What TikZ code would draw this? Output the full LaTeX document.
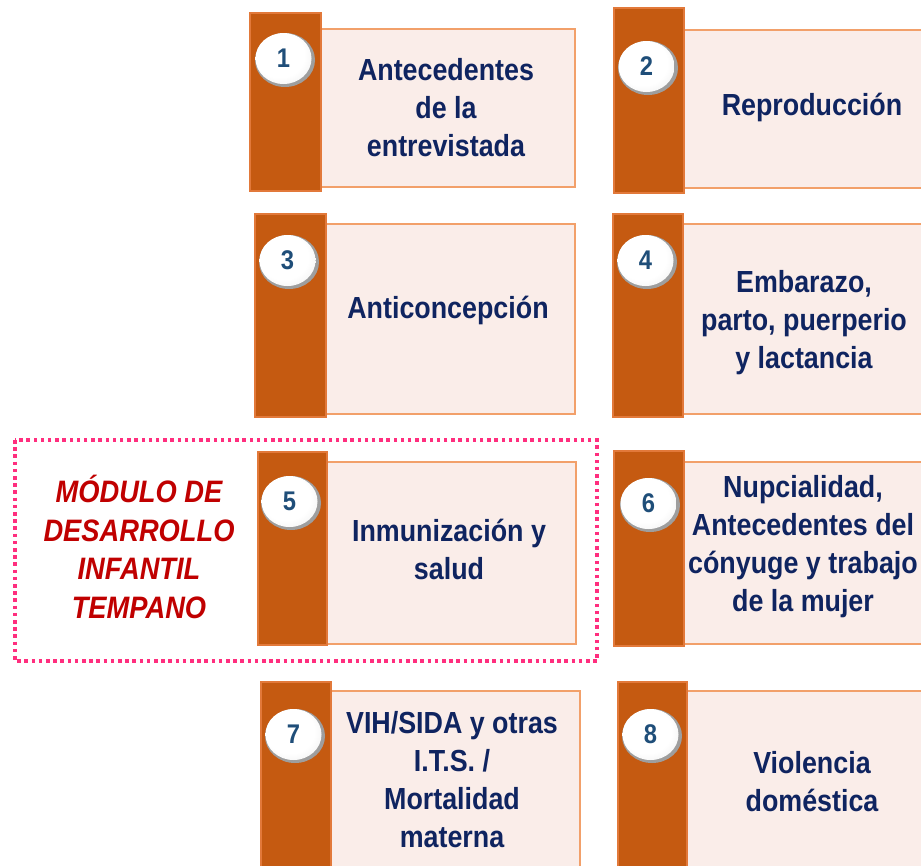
\documentclass[tikz,border=0pt]{standalone}
\usepackage{fontspec}
\setmainfont{Liberation Sans}
\newfontfamily\nar[FakeStretch=0.88]{Liberation Sans}
\usetikzlibrary{shapes.geometric}
\definecolor{barfill}{HTML}{C55A11}
\definecolor{barline}{HTML}{E2793A}
\definecolor{boxfill}{HTML}{FAEDE9}
\definecolor{boxline}{HTML}{F2A06A}
\definecolor{navy}{HTML}{0F2460}
\definecolor{numblue}{HTML}{1F4E79}
\definecolor{modred}{HTML}{C00000}
\definecolor{dotpink}{HTML}{FF2E7E}
\pgfdeclareradialshading{pearl}{\pgfpoint{-6bp}{6bp}}{color(0bp)=(white); color(22bp)=(white); color(34bp)=(black!6); color(44bp)=(black!16); color(50bp)=(black!26)}
\tikzset{
  lightbox/.style={draw=boxline, fill=boxfill, line width=1.3pt},
  barbox/.style={draw=barline, fill=barfill, line width=1.5pt},
  ballrim/.style={fill=black!38},
  pearlball/.style={ellipse, minimum width=56pt, minimum height=51pt, inner sep=0pt, shading=pearl, text=numblue, font=\nar\bfseries\fontsize{27}{27}\selectfont},
  label/.style={align=center, text=navy, font=\nar\bfseries\fontsize{30.5}{38}\selectfont, inner sep=0pt},
  modlabel/.style={align=center, text=modred, font=\nar\bfseries\itshape\fontsize{31}{38.5}\selectfont, inner sep=0pt},
  dotframe/.style={draw=dotpink, line width=3.5pt, dash pattern=on 3.5pt off 3.7pt}
}
\newcommand{\pearlnum}[3]{%
  \fill[ballrim] (#1) ellipse [x radius=30pt, y radius=27pt];
  \node[pearlball] (#2) at ([xshift=-1.5pt,yshift=1.5pt]#1) {#3};
}
\begin{document}
\begin{tikzpicture}[x=1pt,y=-1pt]
\useasboundingbox (0,0) rectangle (921,865);
\clip (0,0) rectangle (921,865);
\fill[white] (0,0) rectangle (921,865);
% frame
\draw[dotframe] (15,440) rectangle (597,661);
\node[modlabel] (mod) at (139,547) {MÓDULO DE\\DESARROLLO\\INFANTIL\\TEMPANO};
% box 1
\draw[lightbox] (320,29) rectangle (575,187);
\draw[barbox] (250,13) rectangle (321,191);
\pearlnum{285,60}{c1}{1}
\node[label] (t1) at (446,108) {Antecedentes\\de la\\entrevistada};
% box 2
\draw[lightbox] (684,30) rectangle (960,188);
\draw[barbox] (614,8) rectangle (684,193);
\pearlnum{648,68}{c2}{2}
\node[label] (t2) at (812,107) {Reproducción};
% box 3
\draw[lightbox] (325,224) rectangle (575,414);
\draw[barbox] (255,214) rectangle (326,417);
\pearlnum{289,262}{c3}{3}
\node[label] (t3) at (448,310) {Anticoncepción};
% box 4
\draw[lightbox] (683,224) rectangle (960,414);
\draw[barbox] (613,214) rectangle (683,417);
\pearlnum{647,262}{c4}{4}
\node[label] (t4) at (804,323) {Embarazo,\\parto, puerperio\\y lactancia};
% box 5
\draw[lightbox] (326,462) rectangle (576,644);
\draw[barbox] (258,452) rectangle (327,645);
\pearlnum{291,503}{c5}{5}
\node[label] (t5) at (449,549) {Inmunización y\\salud};
% box 6
\draw[lightbox] (684,462) rectangle (960,644);
\draw[barbox] (614,451) rectangle (684,646);
\pearlnum{650,505}{c6}{6}
\node[label] (t6) at (803,547) {Nupcialidad,\\Antecedentes del\\cónyuge y trabajo\\de la mujer};
% box 7
\draw[lightbox] (330,691) rectangle (580,900);
\draw[barbox] (261,682) rectangle (331,900);
\pearlnum{295,736}{c7}{7}
\node[label] (t7) at (452,780) {VIH/SIDA y otras\\I.T.S. /\\Mortalidad\\materna};
% box 8
\draw[lightbox] (686,691) rectangle (960,900);
\draw[barbox] (618,682) rectangle (687,900);
\pearlnum{652,736}{c8}{8}
\node[label] (t8) at (812,782) {Violencia\\doméstica};
\end{tikzpicture}
\end{document}
